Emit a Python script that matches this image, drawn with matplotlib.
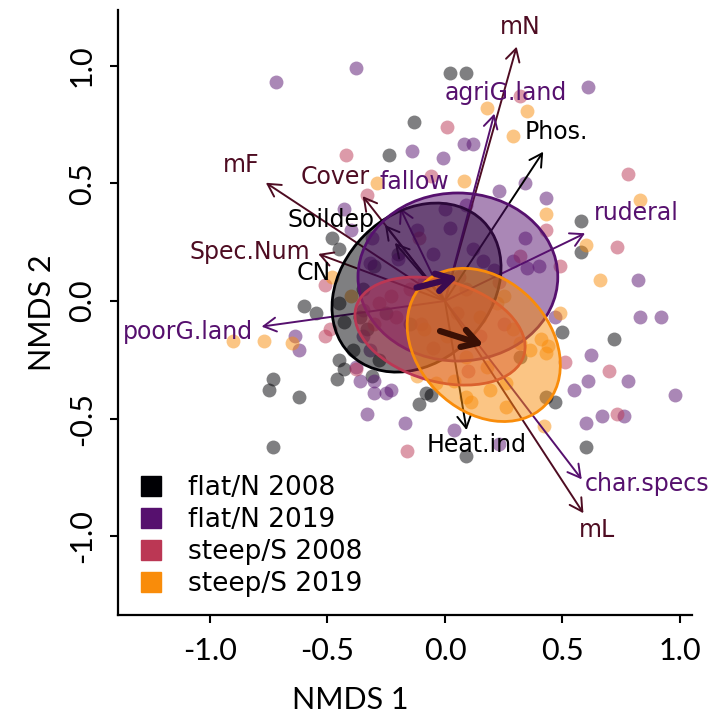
import numpy as np
import matplotlib.pyplot as plt
from matplotlib.patches import Ellipse
from matplotlib.lines import Line2D

# groups
groups = ["flat/N 2008", "flat/N 2019", "steep/S 2008", "steep/S 2019"]
group_colors = ["#000004", "#56106E", "#BB3754", "#F98C0A"]

# site scores (NMDS1, NMDS2)
flat08_x = [0.02, 0.09, -0.13, -0.24, -0.48, -0.45, -0.60, -0.55, 0.58, 0.58,
            0.50, 0.72, 0.43, 0.47, -0.11, -0.06, 0.09, 0.60, -0.73, -0.75,
            -0.62, -0.46, -0.43, -0.45, -0.73, -0.45, -0.43, -0.39, 0.32, -0.31,
            -0.28, -0.08, -0.35, -0.25, -0.30, -0.20, -0.15, 0.00, -0.36, -0.33]
flat08_y = [0.97, 0.97, 0.76, 0.62, 0.27, 0.22, -0.02, -0.05, 0.34, 0.21,
            -0.13, -0.16, -0.41, -0.43, -0.44, -0.40, -0.66, -0.62, -0.33, -0.38,
            -0.41, -0.33, -0.29, -0.25, -0.62, -0.01, -0.09, -0.21, -0.24, -0.32,
            -0.25, -0.39, 0.05, -0.05, 0.15, 0.20, -0.10, 0.10, -0.07, -0.12]

flat19_x = [-0.72, -0.38, 0.61, 0.08, 0.12, -0.14, -0.01, -0.43, -0.40, 0.23,
            0.34, 0.43, 0.34, 0.02, 0.35, 0.40, 0.00, 0.82, 0.83, 0.92,
            0.47, 0.62, 0.61, 0.78, 0.55, 0.98, 0.60, 0.67, 0.76, -0.17,
            0.04, 0.23, -0.64, -0.62, -0.38, -0.30, -0.30, -0.25, -0.33, -0.31,
            -0.32, -0.12, 0.09, 0.12, 0.16, 0.21, 0.29, -0.35, -0.35, -0.32,
            -0.36, -0.23, -0.09, -0.20, -0.05]
flat19_y = [0.93, 0.99, 0.91, 0.67, 0.67, 0.64, 0.61, 0.39, 0.30, 0.47,
            0.50, 0.44, 0.27, 0.31, 0.14, 0.15, 0.39, 0.09, -0.07, -0.07,
            -0.07, -0.23, -0.34, -0.34, -0.38, -0.40, -0.52, -0.49, -0.49, -0.52,
            -0.55, -0.61, -0.15, -0.21, -0.28, -0.34, -0.39, -0.39, -0.48, 0.27,
            0.16, 0.30, 0.41, 0.22, 0.17, 0.13, 0.17, -0.04, -0.15, -0.21,
            -0.34, -0.38, 0.08, 0.18, 0.20]

steep08_x = [-0.42, -0.33, 0.01, 0.32, -0.06, 0.78, 0.43, 0.73, 0.49, 0.51,
             0.70, 0.73, -0.16, -0.51, -0.38, -0.51, -0.49, -0.11, 0.32, 0.23,
             0.06, -0.28, -0.21, -0.23, -0.15, 0.09, -0.10, 0.05, -0.05, 0.15,
             0.25, -0.30, 0.10]
steep08_y = [0.62, 0.45, 0.74, 0.87, 0.53, 0.54, 0.30, 0.23, 0.15, -0.26,
             -0.30, -0.48, -0.64, -0.15, -0.29, 0.07, -0.12, 0.27, 0.19, 0.08,
             0.10, -0.01, -0.07, 0.02, 0.05, 0.05, -0.10, -0.05, -0.20, -0.15,
             -0.10, -0.10, -0.30]

steep19_x = [0.18, 0.35, 0.29, 0.08, -0.29, 0.83, 0.43, 0.60, 0.66, 0.49,
             0.41, 0.44, 0.43, 0.26, 0.11, 0.42, -0.90, -0.77, -0.65, -0.48,
             -0.40, -0.09, 0.01, 0.15, 0.22, 0.25, 0.09, 0.18, 0.29, 0.32,
             -0.12, -0.04, 0.04, 0.09, 0.19, 0.26, 0.36]
steep19_y = [0.82, 0.81, 0.70, 0.51, 0.50, 0.43, 0.37, 0.24, 0.09, -0.05,
             -0.16, -0.19, -0.22, -0.45, -0.43, -0.53, -0.17, -0.17, -0.18, 0.10,
             0.02, -0.12, -0.15, -0.07, -0.01, 0.02, -0.24, -0.28, -0.12, -0.18,
             -0.32, -0.35, -0.34, -0.41, -0.38, -0.35, -0.21]

# group ellipses: centre, width, height, angle
ell_cx = [-0.121, 0.055, -0.021, 0.165]
ell_cy = [0.057, 0.102, -0.128, -0.187]
ell_w = [0.80, 0.85, 0.743, 0.732]
ell_h = [0.628, 0.715, 0.428, 0.56]
ell_ang = [45, 0, -16, -45]

# envfit vectors
env_names = ["mN", "agriG.land", "Phos.", "ruderal", "mF", "Cover", "fallow",
             "Soildep", "Spec.Num", "CN", "poorG.land", "Heat.ind",
             "char.specs", "mL"]
env_x = [0.305, 0.210, 0.418, 0.596, -0.762, -0.350, -0.191,
         -0.255, -0.539, -0.213, -0.780, 0.092, 0.582, 0.589]
env_y = [1.082, 0.797, 0.635, 0.288, 0.503, 0.446, 0.396,
         0.323, 0.200, 0.247, -0.109, -0.549, -0.759, -0.903]
env_lab_x = [0.319, 0.260, 0.475, 0.813, -0.868, -0.469, -0.128,
             -0.485, -0.830, -0.560, -1.094, 0.135, 0.858, 0.646]
env_lab_y = [1.166, 0.884, 0.720, 0.373, 0.579, 0.529, 0.508,
             0.345, 0.210, 0.118, -0.131, -0.613, -0.779, -0.974]
env_type = ["ind", "land", "soil", "land", "ind", "ind", "land",
            "soil", "ind", "soil", "land", "soil", "land", "ind"]
type_colors = {"ind": "#4E0C22", "land": "#56106E", "soil": "#000000"}

fig = plt.figure(figsize=(7.11, 7.19), dpi=100)
ax = fig.add_axes([118 / 711, 104 / 719, 574 / 711, 605 / 719])

xs = [flat08_x, flat19_x, steep08_x, steep19_x]
ys = [flat08_y, flat19_y, steep08_y, steep19_y]
for gx, gy, c in zip(xs, ys, group_colors):
    ax.scatter(gx, gy, s=100, color=c, alpha=0.5, linewidths=0, zorder=1)

for i, name in enumerate(env_names):
    c = type_colors[env_type[i]]
    ax.annotate("", xy=(env_x[i], env_y[i]), xytext=(0, 0),
                arrowprops=dict(arrowstyle="->,head_length=0.45,head_width=0.25",
                                color=c, lw=1.4, mutation_scale=20,
                                shrinkA=0, shrinkB=0), zorder=2)
    ax.text(env_lab_x[i], env_lab_y[i], name, color=c, fontsize=17,
            ha="center", va="center", family="DejaVu Sans", zorder=5)

for i, c in enumerate(group_colors):
    ax.add_patch(Ellipse((ell_cx[i], ell_cy[i]), ell_w[i], ell_h[i], angle=ell_ang[i],
                         facecolor=c, alpha=0.5, edgecolor="none", zorder=3))
    ax.add_patch(Ellipse((ell_cx[i], ell_cy[i]), ell_w[i], ell_h[i], angle=ell_ang[i],
                         facecolor="none", edgecolor=c, lw=2, zorder=3))

# shift of group centroids 2008 -> 2019
shift_colors = ["#3B0A50", "#3A1005"]
for k, (a, b) in enumerate([(0, 1), (2, 3)]):
    ax.annotate("", xy=(ell_cx[b], ell_cy[b]), xytext=(ell_cx[a], ell_cy[a]),
                arrowprops=dict(arrowstyle="->,head_length=0.55,head_width=0.32",
                                color=shift_colors[k], lw=4.5, mutation_scale=20,
                                shrinkA=0, shrinkB=0), zorder=4)

handles = [Line2D([], [], marker="s", ls="", color=c, markersize=14.5) for c in group_colors]
ax.legend(handles, groups, loc="lower left", bbox_to_anchor=(0.035, 0.03),
          frameon=False, prop={"family": "DejaVu Sans", "size": 19},
          handlelength=1.0, handletextpad=0.9, labelspacing=0.22, borderpad=0,
          borderaxespad=0)

ax.set_xlim(-1.391, 1.051)
ax.set_ylim(-1.336, 1.238)
ax.set_xticks([-1.0, -0.5, 0.0, 0.5, 1.0])
ax.set_yticks([-1.0, -0.5, 0.0, 0.5, 1.0])
ax.set_xticklabels(["-1.0", "-0.5", "0.0", "0.5", "1.0"], family="Lato", fontsize=22)
ax.set_yticklabels(["-1.0", "-0.5", "0.0", "0.5", "1.0"], family="Lato", fontsize=22,
                   rotation=90, va="center")
ax.tick_params(direction="out", length=6, width=1.5, pad=10)
for s in ["top", "right"]:
    ax.spines[s].set_visible(False)
for s in ["left", "bottom"]:
    ax.spines[s].set_linewidth(1.6)
ax.set_xlabel("NMDS 1", family="Lato", fontsize=22)
ax.set_ylabel("NMDS 2", family="Lato", fontsize=22)
ax.xaxis.set_label_coords(0.404, -0.117)
ax.yaxis.set_label_coords(-0.108, 0.5)

fig.savefig("out.png", dpi=100)
